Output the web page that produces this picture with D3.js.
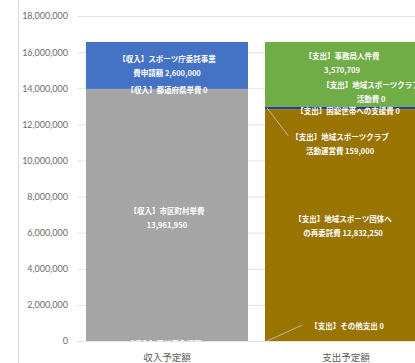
<!DOCTYPE html>
<html>
<head>
<meta charset="utf-8">
<script src="https://cdn.jsdelivr.net/npm/d3@7"></script>
<style>
  html, body { margin: 0; padding: 0; background: #fff; }
  svg { display: block; }
</style>
</head>
<body>
<svg id="chart" width="415" height="363"></svg>
<script>
// Categories on the x axis
const categories = ["収入予定額", "支出予定額"];

// Revenue stack, bottom to top
const incomeNames = ["受益者負担額", "市区町村単費", "都道府県単費", "スポーツ庁委託事業費申請額"];
const incomeValues = [0, 13961950, 0, 2600000];

// Expenditure stack, bottom to top
const expenseNames = ["その他支出", "地域スポーツ団体への再委託費", "地域スポーツクラブ活動運営費", "困窮世帯への支援費", "地域スポーツクラブ活動費", "事務局人件費"];
const expenseValues = [0, 12832250, 159000, 0, 0, 3570709];

// Value axis ticks
const yTicks = [0, 2000000, 4000000, 6000000, 8000000, 10000000, 12000000, 14000000, 16000000, 18000000];

const incomeColors = ["#A5A5A5", "#A5A5A5", "#A5A5A5", "#4472C4"];
const expenseColors = ["#9A7400", "#9A7400", "#264478", "#5B9BD5", "#70AD47", "#70AD47"];

// Data label lines (text), one entry per segment
const fmt = d3.format(",");
const incomeLabelLines = [
  ["【収入】受益者負担額 " + fmt(incomeValues[0])],
  ["【収入】市区町村単費", fmt(incomeValues[1])],
  ["【収入】都道府県単費 " + fmt(incomeValues[2])],
  ["【収入】スポーツ庁委託事業", "費申請額 " + fmt(incomeValues[3])]
];
const expenseLabelLines = [
  ["【支出】その他支出 " + fmt(expenseValues[0])],
  ["【支出】地域スポーツ団体へ", "の再委託費 " + fmt(expenseValues[1])],
  ["【支出】地域スポーツクラブ", "活動運営費 " + fmt(expenseValues[2])],
  ["【支出】困窮世帯への支援費 " + fmt(expenseValues[3])],
  ["【支出】地域スポーツクラブ活動費", "活動費 " + fmt(expenseValues[4])],
  ["【支出】事務局人件費", fmt(expenseValues[5])]
];
// The long club-activity label wraps after "クラブ"
expenseLabelLines[4] = ["【支出】地域スポーツクラブ", "活動費 " + fmt(expenseValues[4])];

const svg = d3.select("#chart");
const plot = { left: 77, right: 436, top: 16, bottom: 341 };

const x = d3.scaleBand()
  .domain(categories)
  .range([plot.left, plot.right])
  .paddingInner(0.095)
  .paddingOuter(0.05);

const y = d3.scaleLinear()
  .domain([0, 18000000])
  .range([plot.bottom, plot.top]);

// Left frame line
svg.append("line")
  .attr("x1", 18.5).attr("x2", 18.5)
  .attr("y1", 0).attr("y2", 363)
  .attr("stroke", "#d9d9d9").attr("stroke-width", 1);

// Gridlines
const yAxis = d3.axisLeft(y)
  .tickValues(yTicks)
  .tickFormat(fmt)
  .tickSize(-(plot.right - plot.left))
  .tickPadding(9);

const gy = svg.append("g")
  .attr("transform", `translate(${plot.left},0)`)
  .call(yAxis);
gy.select(".domain").remove();
gy.selectAll(".tick line").attr("stroke", "#e3e3e3").attr("stroke-width", 1);
gy.selectAll(".tick text")
  .attr("fill", "#6b6b6b")
  .style("font-family", "Lato, 'Open Sans', sans-serif")
  .style("font-size", "9px");

// Build stacked segments
function stackSegments(values) {
  let acc = 0;
  return values.map(v => { const s = { y0: acc, y1: acc + v }; acc += v; return s; });
}
const incomeSegs = stackSegments(incomeValues);
const expenseSegs = stackSegments(expenseValues);

const clip = svg.append("clipPath").attr("id", "plotclip")
  .append("rect")
  .attr("x", plot.left).attr("y", 0)
  .attr("width", plot.right - plot.left).attr("height", plot.bottom);

const bars = svg.append("g").attr("clip-path", "url(#plotclip)");

function drawBars(cat, segs, colors) {
  bars.selectAll(null)
    .data(segs)
    .join("rect")
    .attr("x", x(cat))
    .attr("width", x.bandwidth())
    .attr("y", d => y(d.y1))
    .attr("height", d => y(d.y0) - y(d.y1))
    .attr("fill", (d, i) => colors[i]);
}
drawBars(categories[0], incomeSegs, incomeColors);
drawBars(categories[1], expenseSegs, expenseColors);

// Label placement: offsets (px) from the segment midpoint, per segment
const incomeLabelPos = [
  { dx: 0, dy: 2 },
  { dx: 0, dy: -5 },
  { dx: 0, dy: 0 },
  { dx: 0, dy: -7 }
];
const expenseLabelPos = [
  { dx: 1, dy: -16, leader: true },
  { dx: -3, dy: -7 },
  { dx: -6, dy: 28, leader: true },
  { dx: 2, dy: 4 },
  { dx: 25, dy: -22 },
  { dx: -4, dy: -19 }
];

const labels = svg.append("g").attr("clip-path", "url(#plotclip)");
const lineH = 14;

function drawLabels(cat, segs, lines, pos) {
  const cx = x(cat) + x.bandwidth() / 2;
  segs.forEach((s, i) => {
    const mid = y((s.y0 + s.y1) / 2);
    const p = pos[i];
    const lx = cx + p.dx, ly = mid + p.dy;
    if (p.leader) {
      const tw = lines[i][0].length * 7.2;
      labels.append("line")
        .attr("x1", x(cat) + 2).attr("y1", mid)
        .attr("x2", lx - tw / 2 - 5).attr("y2", ly)
        .attr("stroke", "#c8c8c8").attr("stroke-width", 0.8);
    }
    const t = labels.append("text")
      .attr("x", lx).attr("y", ly)
      .attr("text-anchor", "middle")
      .attr("dominant-baseline", "central")
      .attr("fill", "#ffffff")
      .style("font-family", "'Noto Sans CJK JP', sans-serif")
      .style("font-weight", "bold")
      .style("font-size", "7.5px");
    lines[i].forEach((ln, k) => {
      t.append("tspan").attr("x", lx).attr("dy", k === 0 ? 0 : lineH).text(ln);
    });
  });
}
drawLabels(categories[0], incomeSegs, incomeLabelLines, incomeLabelPos);
drawLabels(categories[1], expenseSegs, expenseLabelLines, expenseLabelPos);

// Category axis labels
svg.append("g")
  .selectAll("text")
  .data(categories)
  .join("text")
  .attr("x", d => x(d) + x.bandwidth() / 2)
  .attr("y", 357)
  .attr("text-anchor", "middle")
  .attr("dominant-baseline", "central")
  .attr("fill", "#595959")
  .style("font-family", "'Noto Sans CJK JP', sans-serif")
  .style("font-size", "9.5px")
  .text(d => d);
</script>
</body>
</html>
